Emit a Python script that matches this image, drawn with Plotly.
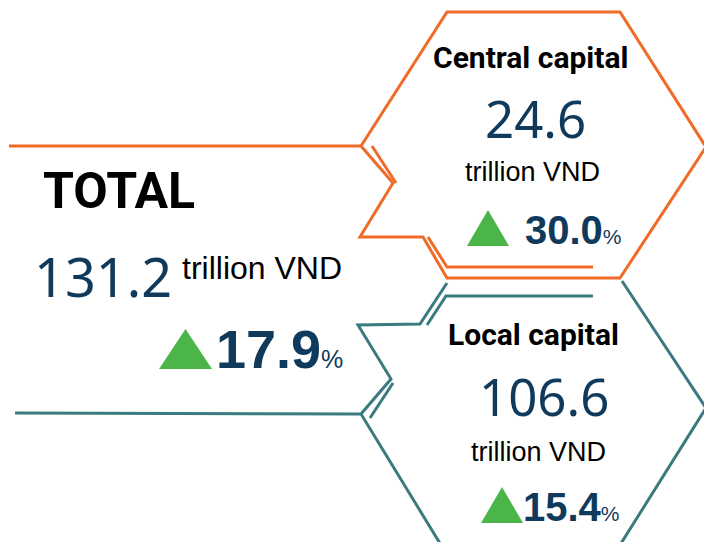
import plotly.graph_objects as go

# data
total_value = 131.2
total_growth = 17.9
part_names = ["Central capital", "Local capital"]
part_values = [24.6, 106.6]
part_growth = [30.0, 15.4]
unit = "trillion VND"

ORANGE = "#F06A28"
TEAL = "#3A7B80"
NAVY = "#0F3A5C"
GREEN = "#4CB54A"
HEAD = "Roboto, Liberation Sans, Arial"
PLAIN = "Liberation Sans, Arial"
NUMF = "Noto Sans, Open Sans, sans-serif"

fig = go.Figure()

# hexagon outlines, in page pixels
orange_outer = "M 9,146 L 361,146 L 447,12 L 620,12 L 706,147 L 620,278 L 447,278 L 423,237 L 360,237 L 393,183 L 361,146"
orange_inner = "M 372,146 L 396,183 M 428,237 L 447,267 L 593,267"
teal_outer = "M 447,283 L 420,324 L 358,325 L 391,379 L 361,414 L 441,545 M 15,413 L 361,414 M 622,281 L 706,408 L 620,545"
teal_inner = "M 593,296 L 446,296 L 427,325 M 393,383 L 370,418"

shapes = []
for p, c in [(orange_outer, ORANGE), (orange_inner, ORANGE), (teal_outer, TEAL), (teal_inner, TEAL)]:
    shapes.append(dict(type="path", path=p, xref="x", yref="y", line=dict(color=c, width=3)))

# green "up" icons: (left, right, top, bottom) boxes
for x0, x1, y0, y1 in [(159, 212, 329, 369), (467, 509, 210, 246), (481, 523, 487, 523)]:
    shapes.append(dict(type="path", path=f"M {x0},{y1} L {x1},{y1} L {(x0 + x1) / 2},{y0} Z",
                       xref="x", yref="y", fillcolor=GREEN, line=dict(width=0)))

ann = []
def t(x, y, s, size, color="#000000", family=PLAIN, bold=False, xanchor="center"):
    ann.append(dict(x=x, y=y, xref="x", yref="y", text=f"<b>{s}</b>" if bold else s, showarrow=False,
                    xanchor=xanchor, yanchor="middle", font=dict(size=size, color=color, family=family)))

# total block
t(41, 191, "TOTAL", 50, family=HEAD, bold=True, xanchor="left")
t(32, 276, f"{total_value:.1f}", 54, NAVY, NUMF, xanchor="left")
t(180, 268, unit, 32, xanchor="left")
t(214, 349, f"<b>{total_growth:.1f}</b><span style='font-size:25px'>%</span>", 54, NAVY, PLAIN, xanchor="left")

# parts
pos = [dict(h=(530, 57), v=(535, 118), u=(532, 172), g=(523, 230)),
       dict(h=(533, 334), v=(544, 396), u=(538, 452), g=(521, 507))]
for i, name in enumerate(part_names):
    p = pos[i]
    t(p["h"][0], p["h"][1], name, 30, family=HEAD, bold=True)
    t(p["v"][0], p["v"][1], f"{part_values[i]:.1f}", 51, NAVY, NUMF)
    t(p["u"][0], p["u"][1], unit, 27)
    t(p["g"][0], p["g"][1], f"<b>{part_growth[i]:.1f}</b><span style='font-size:21px'>%</span>", 40, NAVY, PLAIN, xanchor="left")

fig.update_layout(
    width=704, height=542, margin=dict(l=0, r=0, t=0, b=0),
    paper_bgcolor="white", plot_bgcolor="white",
    xaxis=dict(range=[0, 704], visible=False, fixedrange=True),
    yaxis=dict(range=[542, 0], visible=False, fixedrange=True),
    shapes=shapes, annotations=ann,
)

# drop the default body margin so the figure fills the window exactly
fig.write_html("out.html", config={"displayModeBar": False},
               post_script="document.body.style.margin='0';document.body.style.overflow='hidden';")
